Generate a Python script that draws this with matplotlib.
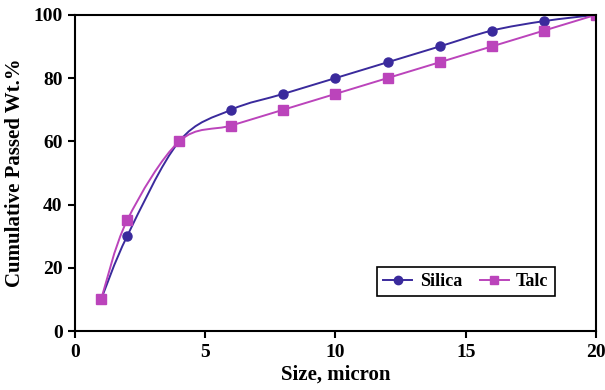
import matplotlib.pyplot as plt
from matplotlib.path import Path
from matplotlib.patches import PathPatch
from matplotlib.lines import Line2D

plt.rcParams['font.family'] = ['Liberation Serif', 'DejaVu Serif']
plt.rcParams['font.weight'] = 'bold'

size = [1, 2, 4, 6, 8, 10, 12, 14, 16, 18, 20]
silica = [10, 30, 60, 70, 75, 80, 85, 90, 95, 98, 100]
talc = [10, 35, 60, 65, 70, 75, 80, 85, 90, 95, 100]

SILICA_C = "#3a2a9c"
TALC_C = "#bb44bb"


def smooth_path(x, y):
    # cubic bezier through the points (Catmull-Rom style, like spreadsheet smoothing)
    pts = list(zip(x, y))
    verts = [pts[0]]
    codes = [Path.MOVETO]
    n = len(pts)
    for i in range(n - 1):
        p0 = pts[i - 1] if i > 0 else pts[i]
        p1 = pts[i]
        p2 = pts[i + 1]
        p3 = pts[i + 2] if i + 2 < n else pts[i + 1]
        c1 = (p1[0] + (p2[0] - p0[0]) / 6, p1[1] + (p2[1] - p0[1]) / 6)
        c2 = (p2[0] - (p3[0] - p1[0]) / 6, p2[1] - (p3[1] - p1[1]) / 6)
        verts += [c1, c2, p2]
        codes += [Path.CURVE4] * 3
    return Path(verts, codes)


fig = plt.figure(figsize=(6.05, 3.9), dpi=100)
ax = fig.add_axes([0.124, 0.151, 0.861, 0.811])

for ys, c, m, ms in [(silica, SILICA_C, "o", 6.5), (talc, TALC_C, "s", 6.5)]:
    ax.add_patch(PathPatch(smooth_path(size, ys), facecolor="none", edgecolor=c, lw=1.4))
    ax.plot(size, ys, linestyle="none", marker=m, color=c, markersize=ms)

ax.set_xlim(0, 20)
ax.set_ylim(0, 100)
ax.set_xticks([0, 5, 10, 15, 20])
ax.set_yticks([0, 20, 40, 60, 80, 100])
ax.tick_params(labelsize=14, width=1.5, length=5, direction="out", pad=4)
for s in ax.spines.values():
    s.set_linewidth(1.5)
ax.set_xlabel("Size, micron", fontsize=15, fontweight="bold", labelpad=3)
ax.set_ylabel("Cumulative Passed Wt.%", fontsize=15, fontweight="bold", labelpad=6)

handles = [Line2D([], [], color=SILICA_C, marker="o", lw=1.4, markersize=6),
           Line2D([], [], color=TALC_C, marker="s", lw=1.4, markersize=6)]
leg = ax.legend(handles, ["Silica", "Talc"], ncol=2, loc="lower left",
                bbox_to_anchor=(0.58, 0.11),
                fancybox=False, edgecolor="black", framealpha=1,
                prop={"size": 13, "weight": "bold"}, handlelength=1.6,
                borderpad=0.35, columnspacing=1.0, handletextpad=0.4,
                borderaxespad=0)
leg.get_frame().set_linewidth(1.2)

fig.savefig("out.png", dpi=100)
